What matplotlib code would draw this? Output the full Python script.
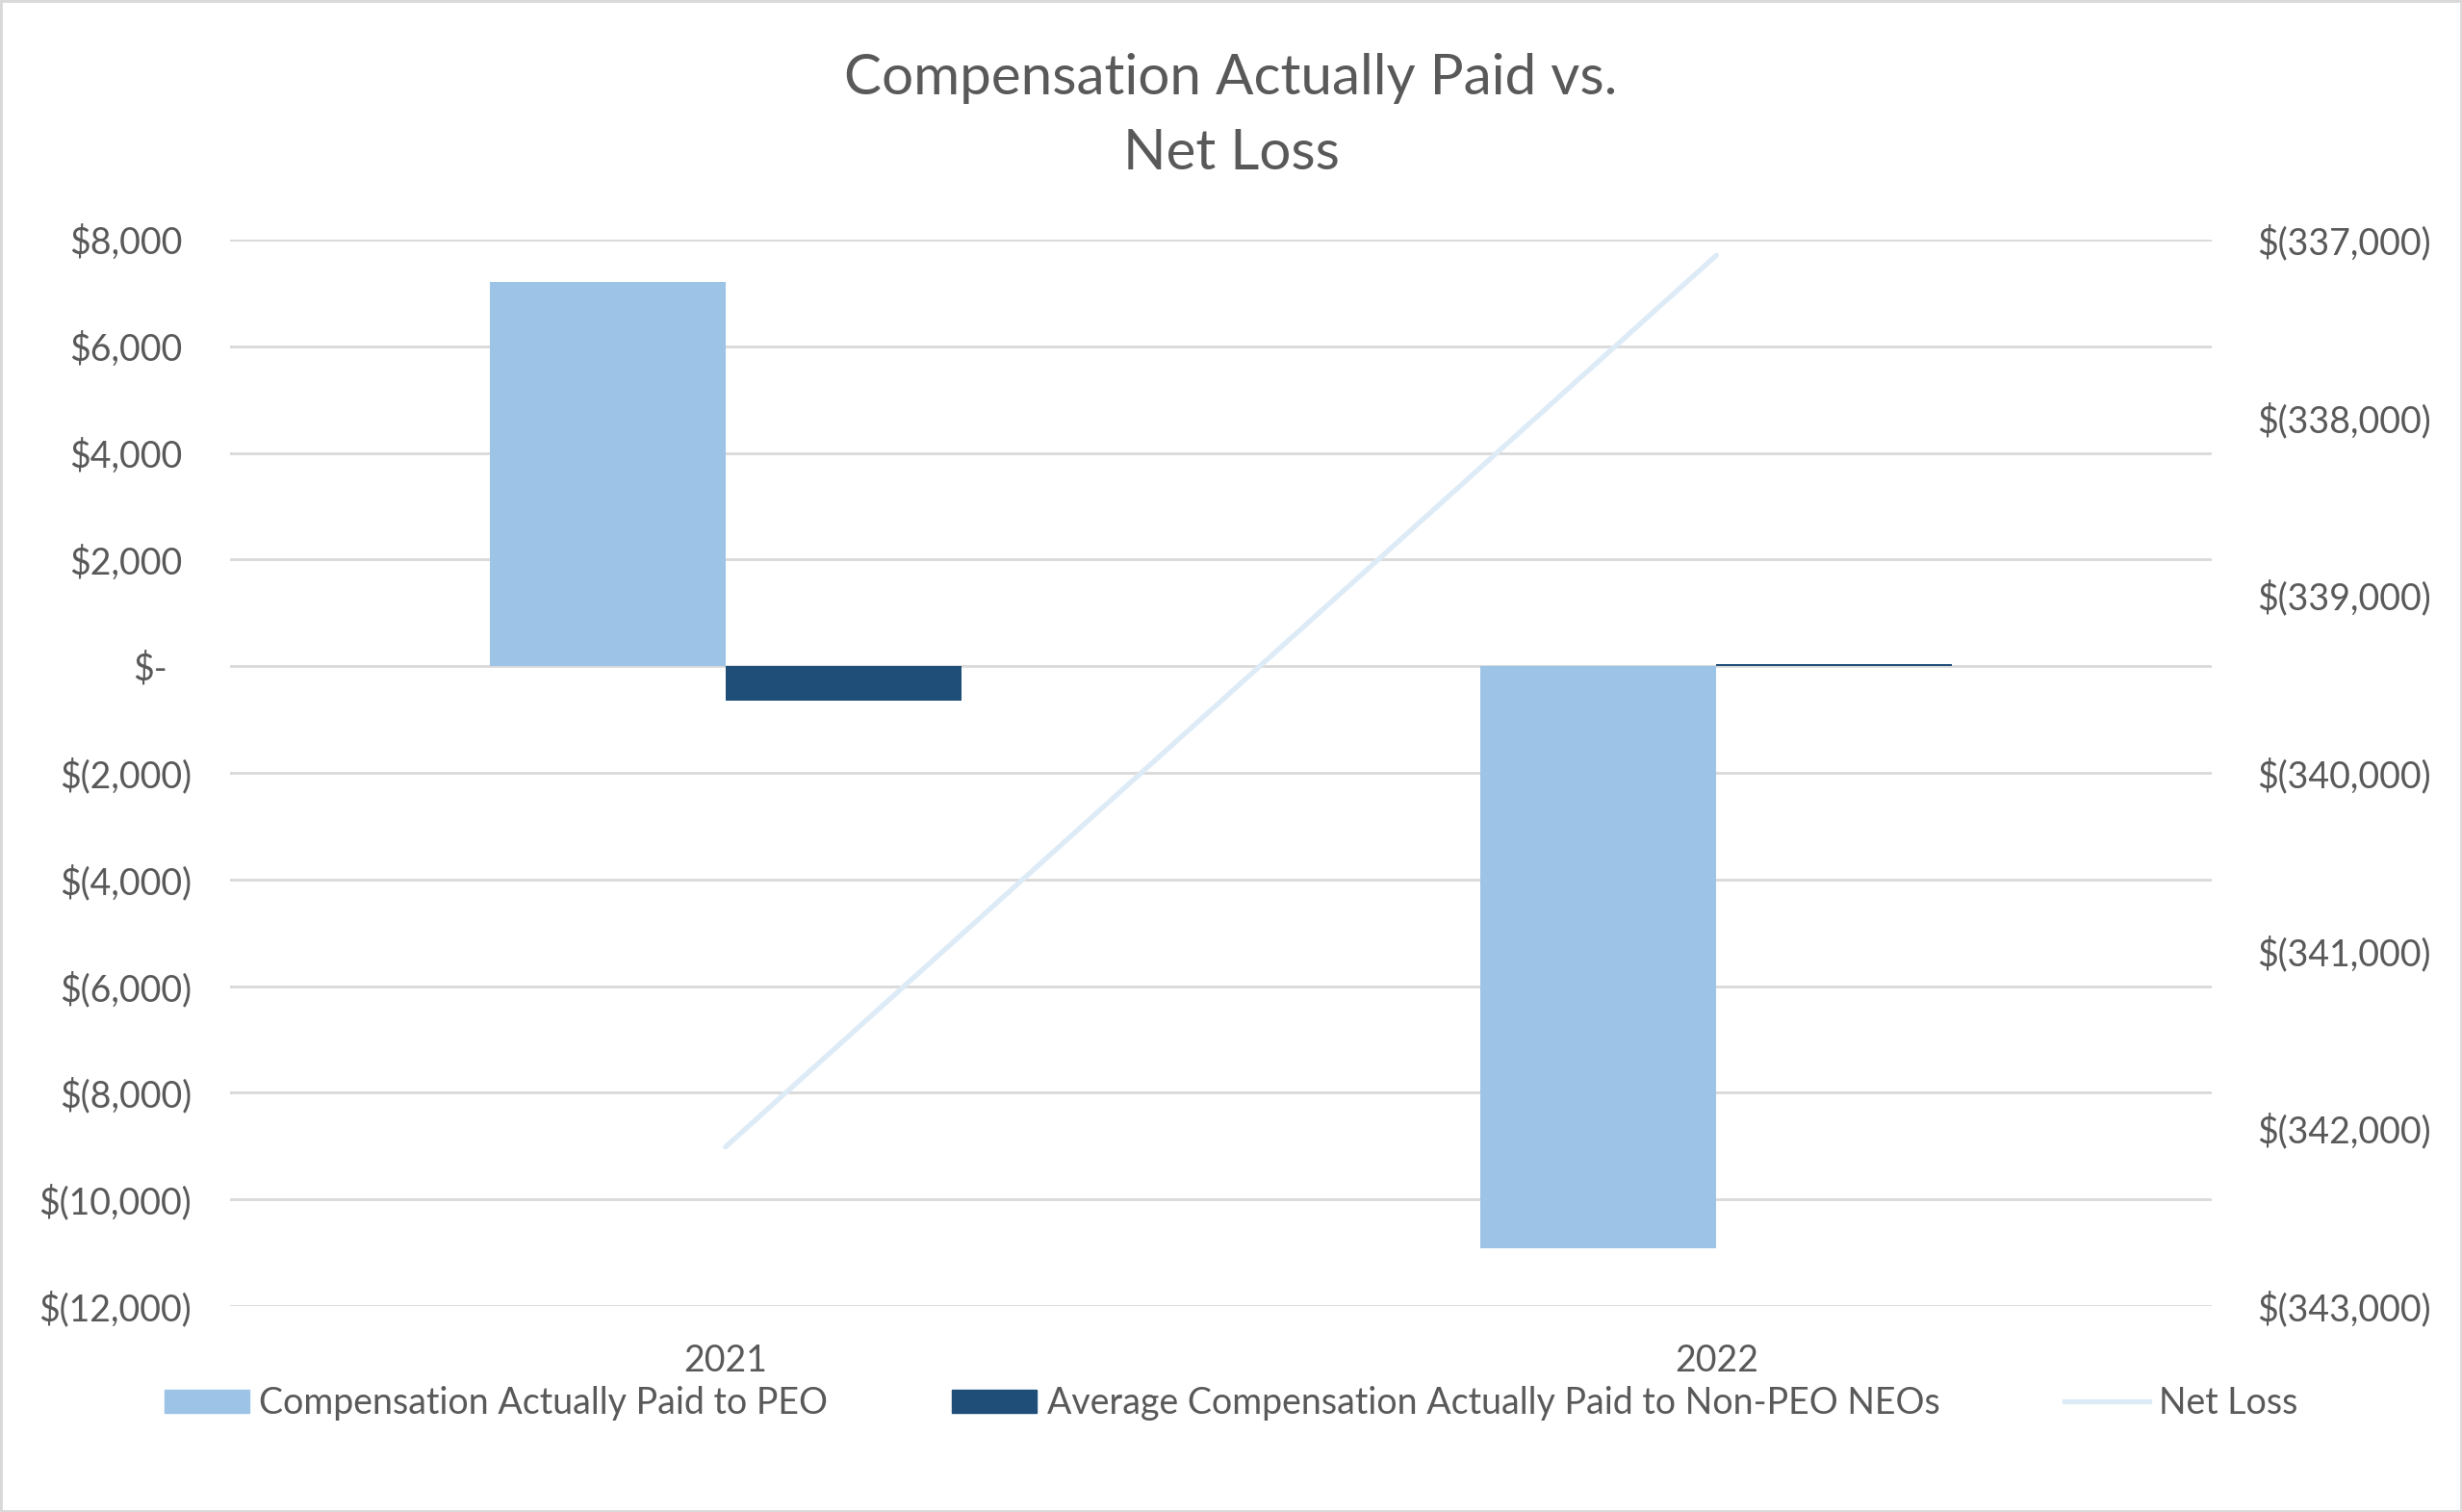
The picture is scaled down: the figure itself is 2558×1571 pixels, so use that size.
import numpy as np
import matplotlib
matplotlib.use('Agg')
import matplotlib.pyplot as plt
from matplotlib.patches import Rectangle, Patch
from matplotlib.lines import Line2D
from matplotlib.transforms import ScaledTranslation

plt.rcParams['font.family'] = ['Lato', 'DejaVu Sans']

years = ['2021', '2022']
peo_cap = [7200, -10920]
non_peo_cap = [-650, 45]
net_loss = [-342105, -337088]

left_ticks = [8000, 6000, 4000, 2000, 0, -2000, -4000, -6000, -8000, -10000, -12000]
left_labels = ['$8,000', '$6,000', '$4,000', '$2,000', '$-', '$(2,000)', '$(4,000)',
               '$(6,000)', '$(8,000)', '$(10,000)', '$(12,000)']
right_ticks = [-337000, -338000, -339000, -340000, -341000, -342000, -343000]
right_labels = ['$(337,000)', '$(338,000)', '$(339,000)', '$(340,000)', '$(341,000)',
                '$(342,000)', '$(343,000)']

text_color = '#595959'
grid_color = '#D9D9D9'
peo_color = '#9DC3E6'
non_peo_color = '#1F4E79'
line_color = '#DDEBF7'
fs = 27

fig = plt.figure(figsize=(25.58, 15.71), dpi=100)
ax = fig.add_axes([0.0934, 0.1362, 0.8050, 0.7053])

x = np.arange(len(years))
w = 0.238
ax.bar(x - w / 2, peo_cap, w, color=peo_color, zorder=2)
ax.bar(x + w / 2, non_peo_cap, w, color=non_peo_color, zorder=2)

ax.set_xlim(-0.5, 1.5)
ax.set_ylim(-12000, 8000)
ax.set_yticks(left_ticks)
ax.set_yticklabels(left_labels)
ax.set_xticks(x)
ax.set_xticklabels(years)
ax.grid(axis='y', color=grid_color, linewidth=2)
ax.set_axisbelow(True)
for s in ax.spines.values():
    s.set_visible(False)
ax.tick_params(axis='y', length=0, pad=28.8, labelsize=fs, labelcolor=text_color)
ax.tick_params(axis='x', length=0, pad=28, labelsize=fs, labelcolor=text_color)

# accounting-style alignment: positives / dash sit left of the paren column
for lab in ax.get_yticklabels():
    t = lab.get_text()
    if t == '$-':
        dx = 18
    elif '(' not in t:
        dx = 6.5
    else:
        dx = 0
    if dx:
        lab.set_transform(lab.get_transform() + ScaledTranslation(-dx / 72, 0, fig.dpi_scale_trans))

ax2 = ax.twinx()
ax2.plot(x, net_loss, color=line_color, linewidth=3.8, solid_capstyle='round', zorder=3)
ax2.set_ylim(-343000, -337000)
ax2.set_yticks(right_ticks)
ax2.set_yticklabels(right_labels)
for s in ax2.spines.values():
    s.set_visible(False)
ax2.tick_params(axis='y', length=0, pad=33.8, labelsize=fs, labelcolor=text_color)

fig.text(0.5, 1 - 81 / 1571, 'Compensation Actually Paid vs.', ha='center', va='center',
         fontsize=42, color=text_color)
fig.text(0.5, 1 - 160 / 1571, 'Net Loss', ha='center', va='center',
         fontsize=42, color=text_color)

handles = [Patch(color=peo_color), Patch(color=non_peo_color),
           Line2D([0], [0], color=line_color, linewidth=3.8)]
labels = ['Compensation Actually Paid to PEO',
          'Average Compensation Actually Paid to Non-PEO NEOs', 'Net Loss']
fig.legend(handles, labels, loc='center', bbox_to_anchor=(0.5, 1 - 1458 / 1571), ncol=3,
           frameon=False, fontsize=fs, labelcolor=text_color, handlelength=2.35,
           handleheight=0.6, handletextpad=0.27, columnspacing=3.45)

fig.patches.append(Rectangle((0, 0), 1, 1, transform=fig.transFigure, fill=False,
                             edgecolor=grid_color, linewidth=3.5))

fig.savefig('out.png', dpi=100)
